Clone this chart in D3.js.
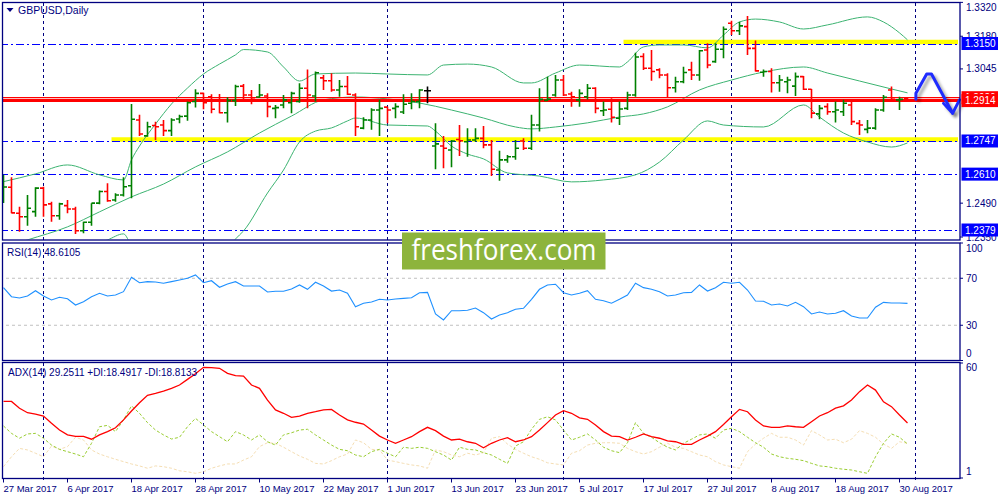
<!DOCTYPE html>
<html>
<head>
<meta charset="utf-8">
<script src="https://cdn.jsdelivr.net/npm/d3@7"></script>
<style>
  html, body { margin: 0; padding: 0; background: #fff; }
  svg { display: block; font-family: "Liberation Sans", Arial, sans-serif; }
</style>
</head>
<body>
<svg id="chart" width="1000" height="500"></svg>
<script>
// GBPUSD Daily, bars 0..113 (27 Mar 2017 - 31 Aug 2017)

const dateTicks = [[0, '27 Mar 2017'], [8, '6 Apr 2017'], [16, '18 Apr 2017'], [24, '28 Apr 2017'],
  [32, '10 May 2017'], [40, '22 May 2017'], [48, '1 Jun 2017'], [56, '13 Jun 2017'],
  [64, '23 Jun 2017'], [72, '5 Jul 2017'], [80, '17 Jul 2017'], [88, '27 Jul 2017'],
  [96, '8 Aug 2017'], [104, '18 Aug 2017'], [112, '30 Aug 2017']];

// bar index of the first bar of each month (grid lines)
const monthStarts = [5, 25, 48, 70, 91, 114];

const open = [1.2503,1.2556,1.2448,1.2434,1.2455,1.2552,1.2487,1.2438,1.2480,1.2466,
  1.2376,1.2411,1.2490,1.2538,1.2503,1.2524,1.2562,1.2834,1.2768,1.2811,
  1.2813,1.2790,1.2838,1.2850,1.2910,1.2944,1.2930,1.2917,1.2864,1.2914,
  1.2974,1.2937,1.2929,1.2933,1.2882,1.2896,1.2905,1.2910,1.2965,1.2933,
  1.3008,1.2996,1.2958,1.2972,1.2937,1.2800,1.2834,1.2875,1.2887,1.2882,
  1.2867,1.2903,1.2910,1.2955,1.2726,1.2726,1.2710,1.2753,1.2744,1.2751,
  1.2758,1.2731,1.2627,1.2669,1.2682,1.2747,1.2717,1.2813,1.2915,1.2937,
  1.2999,1.2941,1.2917,1.2930,1.2965,1.2872,1.2878,1.2841,1.2882,1.2937,
  1.3096,1.3048,1.3041,1.3020,1.2967,1.2992,1.3041,1.3020,1.3123,1.3075,
  1.3126,1.3234,1.3203,1.3220,1.3130,1.3031,1.3034,1.2988,1.2992,1.2974,
  1.3013,1.2961,1.2859,1.2889,1.2868,1.2868,1.2896,1.2820,1.2795,1.2800,
  1.2875,1.2958,1.2917,1.2924];
const high = [1.2607,1.2597,1.2475,1.2524,1.2556,1.2558,1.2496,1.2492,1.2503,1.2475,
  1.2413,1.2490,1.2542,1.2572,1.2531,1.2597,1.2900,1.2855,1.2827,1.2827,
  1.2834,1.2841,1.2855,1.2910,1.2961,1.2946,1.2940,1.2941,1.2928,1.2979,
  1.2983,1.2958,1.2983,1.2944,1.2896,1.2937,1.2951,1.2986,1.3043,1.3034,
  1.3020,1.3027,1.2999,1.3016,1.2944,1.2845,1.2882,1.2917,1.2889,1.2903,
  1.2940,1.2944,1.2961,1.2972,1.2820,1.2768,1.2751,1.2813,1.2800,1.2800,
  1.2809,1.2751,1.2707,1.2689,1.2751,1.2758,1.2855,1.2965,1.3013,1.3020,
  1.3020,1.2951,1.2961,1.2983,1.2969,1.2910,1.2924,1.2910,1.2951,1.3112,
  1.3110,1.3123,1.3048,1.3027,1.3013,1.3054,1.3075,1.3123,1.3151,1.3151,
  1.3220,1.3244,1.3240,1.3264,1.3162,1.3043,1.3048,1.3020,1.3013,1.3030,
  1.3016,1.2962,1.2896,1.2903,1.2910,1.2917,1.2910,1.2834,1.2834,1.2882,
  1.2937,1.2972,1.2930,1.2928];
const low = [1.2491,1.2448,1.2372,1.2397,1.2434,1.2434,1.2413,1.2421,1.2448,1.2363,
  1.2366,1.2397,1.2486,1.2496,1.2496,1.2518,1.2510,1.2768,1.2765,1.2751,
  1.2768,1.2768,1.2820,1.2831,1.2885,1.2878,1.2862,1.2862,1.2823,1.2892,
  1.2917,1.2899,1.2925,1.2845,1.2841,1.2882,1.2862,1.2905,1.2882,1.2910,
  1.2958,1.2951,1.2930,1.2937,1.2768,1.2796,1.2793,1.2768,1.2820,1.2841,
  1.2859,1.2878,1.2882,1.2903,1.2630,1.2634,1.2638,1.2685,1.2682,1.2744,
  1.2717,1.2602,1.2583,1.2657,1.2669,1.2710,1.2710,1.2786,1.2912,1.2930,
  1.2933,1.2889,1.2889,1.2919,1.2862,1.2850,1.2823,1.2813,1.2875,1.2930,
  1.3041,1.2996,1.3006,1.2928,1.2947,1.2986,1.2999,1.2996,1.3048,1.3070,
  1.3089,1.3185,1.3185,1.3103,1.3034,1.3013,1.2947,1.2951,1.2944,1.2933,
  1.2958,1.2841,1.2837,1.2855,1.2823,1.2850,1.2813,1.2772,1.2779,1.2793,
  1.2868,1.2917,1.2875,1.2910];
const close = [1.2557,1.2450,1.2434,1.2469,1.2552,1.2483,1.2438,1.2487,1.2466,1.2376,
  1.2411,1.2490,1.2538,1.2500,1.2524,1.2558,1.2837,1.2776,1.2806,1.2806,
  1.2790,1.2834,1.2848,1.2905,1.2944,1.2905,1.2878,1.2864,1.2914,1.2972,
  1.2937,1.2919,1.2937,1.2889,1.2885,1.2917,1.2944,1.2965,1.2937,1.3029,
  1.2996,1.2958,1.2972,1.2940,1.2806,1.2834,1.2875,1.2882,1.2875,1.2889,
  1.2899,1.2910,1.2958,1.2955,1.2735,1.2717,1.2747,1.2748,1.2751,1.2758,
  1.2731,1.2630,1.2669,1.2682,1.2717,1.2717,1.2813,1.2919,1.2920,1.2999,
  1.2937,1.2930,1.2944,1.2965,1.2882,1.2875,1.2845,1.2879,1.2937,1.3094,
  1.3048,1.3034,1.3020,1.2967,1.2992,1.3030,1.3020,1.3120,1.3061,1.3126,
  1.3209,1.3203,1.3223,1.3130,1.3037,1.3034,1.2988,1.2999,1.2999,1.3013,
  1.2961,1.2862,1.2882,1.2868,1.2875,1.2903,1.2827,1.2813,1.2800,1.2875,
  1.2928,1.2919,1.2919,1.2914];

// Bollinger Bands (20,2): [bar, price]
const bbUpper = [[0,1.2579],[4,1.2611],[8,1.2648],[12,1.2607],[15,1.2586],[16,1.2669],[17,1.2726],
  [19,1.2817],[21,1.2900],[23,1.2966],[25,1.3024],[27,1.3065],[29,1.3103],[30,1.3125],[33,1.3115],
  [35,1.3053],[37,1.2995],[39,1.3024],[44,1.3028],[48,1.3024],[53,1.3020],[55,1.3061],[58,1.3065],
  [61,1.3053],[65,1.2987],[66,1.2987],[69,1.3028],[72,1.3061],[77,1.3053],[78,1.3074],[80,1.3136],
  [82,1.3144],[85,1.3144],[88,1.3132],[90,1.3185],[92,1.3239],[94,1.3251],[97,1.3239],[100,1.3210],
  [103,1.3227],[108,1.3260],[110,1.3239],[112,1.3194],[113,1.3165]];
const bbMiddle = [[0,1.2305],[3,1.2338],[8,1.2392],[12,1.2454],[16,1.2516],[20,1.2569],[24,1.2640],
  [28,1.2702],[32,1.2780],[36,1.2850],[40,1.2917],[44,1.2929],[48,1.2921],[52,1.2904],[56,1.2875],
  [60,1.2842],[64,1.2805],[66,1.2797],[69,1.2805],[73,1.2822],[77,1.2846],[80,1.2859],[83,1.2888],
  [87,1.2958],[91,1.2999],[95,1.3032],[100,1.3053],[103,1.3028],[107,1.2995],[111,1.2962],[113,1.2946]];
const bbLower = [[0,1.2247],[6,1.2276],[11,1.2313],[13,1.2338],[15,1.2363],[16,1.2313],[20,1.2193],
  [24,1.2164],[27,1.2247],[29,1.2342],[30,1.2375],[33,1.2532],[35,1.2627],[37,1.2743],[39,1.2788],
  [41,1.2801],[43,1.2830],[44,1.2842],[48,1.2813],[53,1.2809],[54,1.2788],[56,1.2726],[58,1.2693],
  [60,1.2673],[63,1.2615],[67,1.2602],[71,1.2578],[75,1.2586],[79,1.2607],[82,1.2660],[85,1.2751],
  [88,1.2830],[90,1.2813],[95,1.2805],[100,1.2896],[102,1.2846],[105,1.2780],[108,1.2743],
  [111,1.2722],[113,1.2739]];

const rsi = [62,54.3,53.2,54.9,59.4,54.9,51.5,53.8,52.6,47.2,
  50,54.3,57.2,54.9,55.7,58.6,70.8,66.2,67.1,66.8,
  65.7,67.1,68.5,70,72.8,66.2,67.9,62.3,65.1,67.1,
  63.4,63.4,63.4,58.3,58.9,58.9,60.9,64.3,60.6,66.6,
  63.4,59.1,60,57.2,45.8,48.7,49.8,52.1,51.5,52.3,
  52.9,53.4,57.7,58,39.6,34.5,42.4,42.4,42.7,44.7,
  40.7,35.3,38.7,40.7,43.6,44.4,52.1,60.6,64.3,64.9,
  57.7,55.7,57.2,59.4,52.1,50.9,48.7,52.1,55.7,65.7,
  62,60.6,58.6,54.9,55.7,57.7,58,64.3,59.1,62,
  66.6,65.7,66.6,60,50.6,50.4,47.2,48.1,46.4,49.5,
  45.8,39.6,41.3,39.6,40.2,42.4,37.9,36.2,36.2,45.3,
  49.5,48.9,48.9,48.61];

const adx = [40.3,40.3,36.8,34.5,33.8,32.8,29.1,25.6,23.1,22.4,
  22.4,20.9,23.1,24.8,26.8,30.8,35.4,39.6,43.4,44.4,
  45.6,47,48.7,51.6,54.5,57.8,57.6,57.3,54.7,53.5,
  53.3,48.7,47,41,35.9,34.2,32.1,32.8,34.2,35,
  35.9,36.2,33.3,30.8,29.6,28.7,25.6,22.5,20.5,18.8,
  20.5,22.2,24.8,27,25.3,22.5,20.5,20.9,19.6,18.8,
  16.5,18.8,20.5,21.7,19.6,20.5,22.2,25.6,29.4,33.3,
  35.5,34.2,31.9,31.1,28.2,24.8,22.5,22.2,20.5,21.9,
  23.6,22.2,21.4,20.1,19.6,18.3,18.3,20.5,22.5,24.8,
  28.5,32.4,36.2,35,30.8,27.7,27,27,27.7,27.3,
  27,29.9,32.8,34.5,36.8,38,41,45.3,48.7,46.1,
  40.1,37.6,33.3,29.25];
const plusDI = [27.7,23.9,21.4,23.6,23.9,21.4,17.9,15.7,14.5,13.3,
  11.9,18.8,27.3,28,24.8,30.8,38,34.2,29.4,25.6,
  23.1,21,21.9,27.3,31.6,28.2,24.8,22.2,19.6,24.8,
  23.1,20.5,23.1,19.6,17.9,23.1,24.2,25.6,26,23.1,
  20.5,17.9,15.7,15,12.8,11.9,14.5,15.7,13.7,11.9,
  16.8,16.2,16.8,16.2,14.5,12.8,10.2,16.8,15.7,15.4,
  14,12.8,10.6,8.5,17.4,19.6,26,31.1,32.4,30.8,
  25.6,20.5,21.9,23.6,20.5,16.8,15,14,19.1,29.4,
  23.9,21.9,19.1,16.8,15.4,18.8,20.9,23.1,23.6,21.4,
  25.6,26.5,24.8,21.9,19.1,16.8,13.3,11.9,11.1,10.6,
  9.9,8.5,7.2,6.8,6,5.5,5.1,4.2,3.4,11.9,
  18.8,23.6,21.9,18.49];
const minusDI = [6.8,11.9,16.2,15.4,13.7,11.9,17.4,15.7,17.1,21.9,
  20.5,15.4,13.3,11.9,10.6,9.4,8.2,7.2,6,7.2,
  6.8,6,4.7,4.2,3.4,4.2,6,7.2,8.2,8.2,
  10.2,11.9,17.1,19.1,18.8,16.8,14.5,12.3,10.6,8.5,
  8.2,9.9,11.9,13.3,20.5,19.1,15.7,15.4,10.2,9.4,
  8.5,7.7,7.2,6,15.4,14.5,12.8,11.9,13.7,12.8,
  14,21.4,22.2,18.4,15.7,13.7,11.9,10.6,8.8,8.2,
  7.7,13.7,15,17.9,18.8,19.1,19.1,18.8,16.2,14.5,
  13.3,14.5,16.8,18.8,16.8,16.2,14.5,12.8,11.9,9.4,
  7.7,6.8,6,14.5,18.4,21.4,23.9,21.9,21.9,20.5,
  17.9,25.3,23.1,20.5,20.9,19.1,20.9,25.3,23.9,21.9,
  18.4,16.2,19.6,18.81];

// price scale labels and drawn objects
const priceTicks = [1.3320, 1.3180, 1.3045, 1.2490, 1.2350];
const blueLevels = [1.3150, 1.2747, 1.2610, 1.2379];
const yellowZones = [[77.5, 1.3150], [13.5, 1.2747]]; // [start bar, level]
const askLevel = 1.2926;
const bidLevel = 1.2914;
const arrowPath = [[114.05, 1.2920], [114.05, 1.2944], [115.4, 1.3024], [116.0, 1.3024], [118.65, 1.2862]];
const arrowHead = [[117.5, 1.2903], [118.65, 1.2862], [119.5, 1.2917]];

const navy = '#000080';
const svg = d3.select('#chart');

// panes
const axisX = 960;
const paneMain = { top: 2.5, bottom: 240 };
const paneRsi = { top: 243, bottom: 360.5 };
const paneAdx = { top: 362.5, bottom: 478.5 };

const x = d3.scaleLinear().domain([0, 113]).range([3.5, 907.5]);
const yP = d3.scaleLinear().domain([1.23377, 1.33216]).range([240, 2]);
const yR = d3.scaleLinear().domain([0, 100]).range([360.5, 243]);
const yA = d3.scaleLinear().domain([1, 60]).range([478, 363]);

const defs = svg.append('defs');
[['clipMain', paneMain], ['clipRsi', paneRsi], ['clipAdx', paneAdx]].forEach(function(c) {
  defs.append('clipPath').attr('id', c[0]).append('rect')
    .attr('x', 3).attr('y', c[1].top + 0.5)
    .attr('width', axisX - 3).attr('height', c[1].bottom - c[1].top - 1);
});
const blur = defs.append('filter').attr('id', 'shadow')
  .attr('x', '-10%').attr('y', '-200%').attr('width', '120%').attr('height', '500%');
blur.append('feGaussianBlur').attr('stdDeviation', 1.8);

svg.append('rect').attr('width', 1000).attr('height', 500).attr('fill', '#fff');

// month grid lines through all panes
svg.append('g').selectAll('line').data(monthStarts).join('line')
  .attr('x1', d => x(d)).attr('x2', d => x(d))
  .attr('y1', 3).attr('y2', 482)
  .attr('stroke', navy).attr('stroke-width', 1).attr('stroke-dasharray', '3,3');

// ---------- main pane ----------
const gMain = svg.append('g').attr('clip-path', 'url(#clipMain)');

// yellow zones with soft shadow
yellowZones.forEach(function(z) {
  gMain.append('line')
    .attr('x1', x(z[0])).attr('x2', 958)
    .attr('y1', yP(z[1]) + 3).attr('y2', yP(z[1]) + 3)
    .attr('stroke', 'rgba(0,0,0,0.45)').attr('stroke-width', 5)
    .attr('filter', 'url(#shadow)');
  gMain.append('line')
    .attr('x1', x(z[0])).attr('x2', 958)
    .attr('y1', yP(z[1]) - 1.5).attr('y2', yP(z[1]) - 1.5)
    .attr('stroke', '#ffff00').attr('stroke-width', 4.5);
});

// blue dash-dot levels
gMain.append('g').selectAll('line').data(blueLevels).join('line')
  .attr('x1', 0).attr('x2', axisX)
  .attr('y1', d => Math.round(yP(d)) + 0.5).attr('y2', d => Math.round(yP(d)) + 0.5)
  .attr('stroke', '#0000ff').attr('stroke-width', 1.2).attr('stroke-dasharray', '8,3,2,3');

// Bollinger bands
const bbLine = d3.line().x(d => x(d[0])).y(d => yP(d[1])).curve(d3.curveMonotoneX);
[bbUpper, bbMiddle, bbLower].forEach(function(b) {
  gMain.append('path').attr('d', bbLine(b))
    .attr('fill', 'none').attr('stroke', '#3cb371').attr('stroke-width', 1);
});

// ask / bid lines
gMain.append('line').attr('x1', 0).attr('x2', axisX)
  .attr('y1', yP(askLevel)).attr('y2', yP(askLevel))
  .attr('stroke', '#ff0000').attr('stroke-width', 1.2);
gMain.append('line').attr('x1', 0).attr('x2', axisX)
  .attr('y1', yP(bidLevel)).attr('y2', yP(bidLevel))
  .attr('stroke', '#ff0000').attr('stroke-width', 3);

// OHLC bars
const bars = gMain.append('g').selectAll('g').data(d3.range(open.length)).join('g')
  .attr('stroke', i => close[i] > open[i] ? '#008000' : (close[i] < open[i] ? '#ff0000' : '#000000'))
  .attr('stroke-width', 1.6);
bars.append('line')
  .attr('x1', i => x(i)).attr('x2', i => x(i))
  .attr('y1', i => yP(high[i])).attr('y2', i => yP(low[i]));
bars.append('line')
  .attr('x1', i => x(i) - 3.5).attr('x2', i => x(i))
  .attr('y1', i => yP(open[i])).attr('y2', i => yP(open[i]));
bars.append('line')
  .attr('x1', i => x(i)).attr('x2', i => x(i) + 3.5)
  .attr('y1', i => yP(close[i])).attr('y2', i => yP(close[i]));

// hand drawn forecast arrow
const arrowLine = d3.line().x(d => x(d[0])).y(d => yP(d[1]));
[arrowPath, arrowHead].forEach(function(p) {
  svg.append('path').attr('d', arrowLine(p))
    .attr('transform', 'translate(3,3)')
    .attr('fill', 'none').attr('stroke', 'rgba(0,0,0,0.35)').attr('stroke-width', 3)
    .attr('stroke-linejoin', 'round').attr('filter', 'url(#shadow)');
});
[arrowPath, arrowHead].forEach(function(p) {
  svg.append('path').attr('d', arrowLine(p))
    .attr('fill', 'none').attr('stroke', '#1f2bff').attr('stroke-width', 3)
    .attr('stroke-linejoin', 'round').attr('stroke-linecap', 'round');
});

// ---------- RSI pane ----------
const gRsi = svg.append('g').attr('clip-path', 'url(#clipRsi)');
gRsi.selectAll('line.lvl').data([70, 30]).join('line').attr('class', 'lvl')
  .attr('x1', 0).attr('x2', axisX)
  .attr('y1', d => yR(d)).attr('y2', d => yR(d))
  .attr('stroke', '#c0c0c0').attr('stroke-width', 1).attr('stroke-dasharray', '3,3');
gRsi.append('path')
  .attr('d', d3.line().x((d, i) => x(i)).y(d => yR(d))(rsi))
  .attr('fill', 'none').attr('stroke', '#1e90ff').attr('stroke-width', 1.1);

// ---------- ADX pane ----------
const gAdx = svg.append('g').attr('clip-path', 'url(#clipAdx)');
const adxLine = d3.line().x((d, i) => x(i)).y(d => yA(d));
gAdx.append('path').attr('d', adxLine(minusDI))
  .attr('fill', 'none').attr('stroke', '#f5deb3').attr('stroke-width', 1).attr('stroke-dasharray', '3,2');
gAdx.append('path').attr('d', adxLine(plusDI))
  .attr('fill', 'none').attr('stroke', '#9acd32').attr('stroke-width', 1).attr('stroke-dasharray', '3,2');
gAdx.append('path').attr('d', adxLine(adx))
  .attr('fill', 'none').attr('stroke', '#ff0000').attr('stroke-width', 1.3);

// ---------- frames ----------
const frame = svg.append('g').attr('stroke', navy).attr('stroke-width', 1.3).attr('fill', 'none');
[paneMain, paneRsi, paneAdx].forEach(function(p) {
  frame.append('rect').attr('x', 2.5).attr('y', p.top)
    .attr('width', axisX - 2.5).attr('height', p.bottom - p.top);
});

// ---------- watermark ----------
svg.append('rect').attr('x', 402).attr('y', 232.5).attr('width', 203.5).attr('height', 37)
  .attr('fill', '#8db43c');
svg.append('text').attr('x', 411.5).attr('y', 260)
  .attr('font-family', '"Open Sans", "Noto Sans", sans-serif').attr('font-size', 29)
  .attr('textLength', 185).attr('lengthAdjust', 'spacingAndGlyphs')
  .attr('fill', '#fff').text('freshforex.com');

// ---------- titles ----------
svg.append('path').attr('d', 'M6.5,8 L13.5,8 L10,12 Z').attr('fill', navy);
svg.append('text').attr('x', 18).attr('y', 14).attr('font-size', 10.5).attr('fill', navy)
  .text('GBPUSD,Daily');
svg.append('text').attr('x', 7).attr('y', 255.5).attr('font-size', 10).attr('fill', navy)
  .text('RSI(14) 48.6105');
svg.append('text').attr('x', 8).attr('y', 375.5).attr('font-size', 10).attr('fill', navy)
  .text('ADX(14) 29.2511 +DI:18.4917 -DI:18.8133');

// ---------- right axis ----------
const axisG = svg.append('g').attr('font-size', 10).attr('fill', navy);
function axisLabel(v, yv, top, bottom, txt) {
  const cy = Math.max(top + 5, Math.min(bottom - 3, yv));
  axisG.append('line').attr('x1', axisX).attr('x2', axisX + 3).attr('y1', yv).attr('y2', yv)
    .attr('stroke', navy).attr('stroke-width', 1);
  axisG.append('text').attr('x', 966).attr('y', cy).attr('dy', '0.35em').text(txt);
}
priceTicks.forEach(v => axisLabel(v, yP(v), paneMain.top, paneMain.bottom, v.toFixed(4)));
[100, 70, 30].forEach(v => axisLabel(v, yR(v), paneRsi.top, paneRsi.bottom, String(v)));
axisLabel(0, yR(0), paneRsi.top, paneRsi.bottom - 4, '0');
axisLabel(60, yA(60), paneAdx.top, paneAdx.bottom, '60');
axisLabel(1, yA(1), paneAdx.top, paneAdx.bottom - 4, '1');

// level boxes on the price scale
function levelBox(v, fill) {
  const yv = yP(v);
  svg.append('rect').attr('x', 961.5).attr('y', yv - 6.5).attr('width', 36.5).attr('height', 13)
    .attr('fill', fill);
  svg.append('text').attr('x', 965).attr('y', yv).attr('dy', '0.35em')
    .attr('font-size', 10).attr('fill', '#fff').text(v.toFixed(4));
}
blueLevels.forEach(v => levelBox(v, '#0000ff'));
levelBox(askLevel, '#ff0000');
levelBox(bidLevel, '#ff0000');

// ---------- date axis ----------
const dateG = svg.append('g').attr('font-size', 9.5).attr('fill', navy);
dateTicks.forEach(function(d) {
  dateG.append('line').attr('x1', x(d[0])).attr('x2', x(d[0]))
    .attr('y1', paneAdx.bottom).attr('y2', paneAdx.bottom + 4)
    .attr('stroke', navy).attr('stroke-width', 1);
  dateG.append('text').attr('x', x(d[0])).attr('y', 492).text(d[1]);
});
</script>
</body>
</html>
